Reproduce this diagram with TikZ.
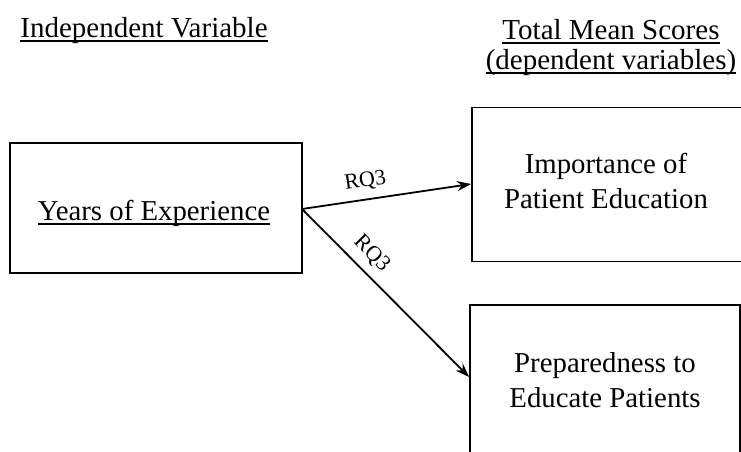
\documentclass[tikz,border=0pt]{standalone}
\usepackage{fontspec}
\setmainfont{Liberation Serif}
\usetikzlibrary{arrows.meta}

% underline with a rule of fixed depth and thickness
\newcommand\ulbar[1]{\setbox0\hbox{#1}\rlap{\rule[-4.5pt]{\wd0}{2pt}}\box0}

\begin{document}
\begin{tikzpicture}[x=1pt,y=-1pt,
  varbox/.style={draw, line width=1.8pt, inner sep=0pt},
  boxtext/.style={inner sep=0pt, align=center,
    font=\fontsize{28.8}{35}\selectfont},
  heading/.style={inner sep=0pt, align=center,
    font=\fontsize{29}{30}\selectfont},
  link/.style={line width=1.8pt, -{Stealth[length=14pt,width=10pt]}},
  rqlabel/.style={font=\fontsize{22}{24}\selectfont, inner sep=2pt}]
  \useasboundingbox (0,0) rectangle (741,451);
  \clip (0,0) rectangle (741,451);

  % column headings
  \node[heading] (hind) at (144,31) {\ulbar{Independent Variable}};
  \node[heading] (hdep) at (611,48) {\ulbar{Total Mean Scores}\\[0pt]\ulbar{(dependent variables)}};

  % variable boxes
  \node[varbox, minimum width=292pt, minimum height=130pt] (years) at (156,208) {};
  \node[boxtext] (yearstext) at (154,213) {\ulbar{Years of Experience}};
  \node[varbox, minimum width=284pt, minimum height=154pt] (import) at (614,184.5) {};
  \node[boxtext] (importtext) at (606,181) {Importance of\\Patient Education};
  \node[varbox, minimum width=270pt, minimum height=170pt] (prep) at (605,390) {};
  \node[boxtext] (preptext) at (605,380) {Preparedness to\\Educate Patients};

  % connectors
  \coordinate (src) at (302,209);
  \draw[link] (src) -- (import.west |- 0,184)
    node[rqlabel, pos=0.39, above, sloped, yshift=6pt] (rqa) {RQ3};
  \draw[link] (src) -- (prep.west |- 0,377)
    node[rqlabel, pos=0.34, above, sloped, yshift=6pt] (rqb) {RQ3};
\end{tikzpicture}
\end{document}
